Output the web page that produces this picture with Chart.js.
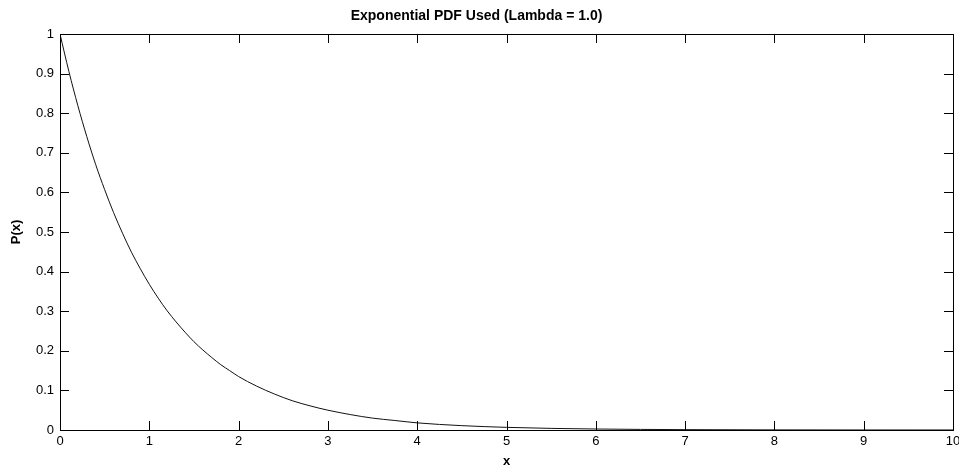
<!DOCTYPE html>
<html>
<head>
<meta charset="utf-8">
<script src="https://cdn.jsdelivr.net/npm/chart.js@4.4.1/dist/chart.umd.min.js"></script>
<style>
  html, body { margin: 0; padding: 0; background: #fff; }
  #wrap { width: 959px; height: 469px; }
</style>
</head>
<body>
<div id="wrap"><canvas id="pdfChart"></canvas></div>
<script>
// valeurs (x, P(x))
const xValues = [0, 0.1, 0.2, 0.3, 0.4, 0.5, 0.6, 0.7, 0.8, 0.9, 1.0,
    1.1, 1.2, 1.3, 1.4, 1.5, 1.6, 1.7, 1.8, 1.9, 2.0,
    2.2, 2.4, 2.6, 2.8, 3.0, 3.25, 3.5, 3.75, 4.0, 4.5, 5.0, 5.5, 6.0, 6.5, 7, 8, 9, 10];
const pValues = [1.0, 0.905, 0.819, 0.741, 0.670, 0.607, 0.549, 0.497, 0.449, 0.407, 0.368,
    0.333, 0.301, 0.273, 0.247, 0.223, 0.202, 0.183, 0.165, 0.150, 0.135,
    0.111, 0.091, 0.074, 0.061, 0.050, 0.039, 0.030, 0.024, 0.018, 0.011, 0.0067, 0.0041, 0.0025, 0.0015, 0.0009, 0.0003, 0.0001, 0.00005];

const xTickLabels = ["0", "1", "2", "3", "4", "5", "6", "7", "8", "9", "10"];
const yTickLabels = ["0", "0.1", "0.2", "0.3", "0.4", "0.5", "0.6", "0.7", "0.8", "0.9", "1"];

const points = xValues.map((x, i) => ({ x: x, y: pValues[i] }));

// cadre + graduations vers l'intérieur (style matlab)
const boxTicks = {
    id: "boxTicks",
    afterDatasetsDraw(chart) {
        const { ctx, chartArea: a, scales } = chart;
        const len = 9;
        ctx.save();
        ctx.strokeStyle = "#000";
        ctx.lineWidth = 1;
        ctx.beginPath();
        scales.x.ticks.forEach((t, i) => {
            const px = Math.round(scales.x.getPixelForTick(i)) + 0.5;
            ctx.moveTo(px, a.bottom);
            ctx.lineTo(px, a.bottom - len);
            ctx.moveTo(px, a.top);
            ctx.lineTo(px, a.top + len);
        });
        scales.y.ticks.forEach((t, i) => {
            const py = Math.round(scales.y.getPixelForTick(i)) + 0.5;
            ctx.moveTo(a.left, py);
            ctx.lineTo(a.left + len, py);
            ctx.moveTo(a.right, py);
            ctx.lineTo(a.right - len, py);
        });
        ctx.stroke();
        ctx.strokeRect(Math.round(a.left) + 0.5, Math.round(a.top) + 0.5,
            Math.round(a.right - a.left), Math.round(a.bottom - a.top));
        ctx.restore();
    }
};

const ctx = document.getElementById("pdfChart").getContext("2d");
new Chart(ctx, {
    type: "line",
    data: {
        datasets: [{
            label: "P(x)",
            data: points,
            borderColor: "#111",
            borderWidth: 1,
            pointRadius: 0,
            fill: false,
            cubicInterpolationMode: "monotone"
        }]
    },
    options: {
        responsive: true,
        maintainAspectRatio: false,
        animation: false,
        layout: { padding: { right: 6, left: 0, bottom: 0 } },
        plugins: {
            legend: { display: false },
            tooltip: { enabled: false },
            title: {
                display: true,
                text: "Exponential PDF Used (Lambda = 1.0)",
                color: "#000",
                font: { family: "Liberation Sans, Arial", size: 14, weight: "bold" },
                padding: { top: 8, bottom: 9.2 }
            }
        },
        scales: {
            x: {
                type: "linear",
                min: 0,
                max: 10,
                grid: { display: false, drawTicks: false },
                border: { display: false },
                ticks: {
                    stepSize: 1,
                    padding: 4,
                    maxRotation: 0,
                    color: "#000",
                    font: { family: "Liberation Sans, Arial", size: 13 },
                    callback: (v) => xTickLabels[v]
                },
                title: {
                    display: true,
                    text: "x",
                    color: "#000",
                    padding: { top: 0, bottom: 0 },
                    font: { family: "Liberation Sans, Arial", size: 13, weight: "bold" }
                },
                afterFit: (s) => {
                    s.height = 39;
                    s.paddingLeft = 0;
                    s.paddingRight = 0; // le "10" déborde comme sur l'original
                }
            },
            y: {
                type: "linear",
                min: 0,
                max: 1,
                grid: { display: false, drawTicks: false },
                border: { display: false },
                ticks: {
                    stepSize: 0.1,
                    padding: 6,
                    color: "#000",
                    font: { family: "Liberation Sans, Arial", size: 13 },
                    callback: (v) => yTickLabels[Math.round(v * 10)]
                },
                title: {
                    display: true,
                    text: "P(x)",
                    color: "#000",
                    padding: { top: 9, bottom: 0 },
                    font: { family: "Liberation Sans, Arial", size: 13, weight: "bold" }
                },
                afterFit: (s) => { s.width = 60; }
            }
        }
    },
    plugins: [boxTicks]
});
</script>
</body>
</html>
